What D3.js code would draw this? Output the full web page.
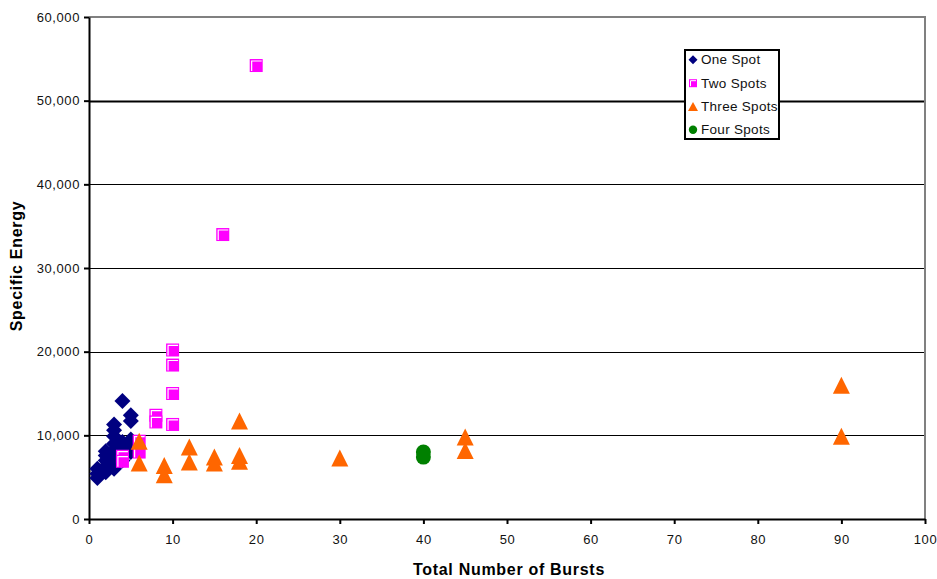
<!DOCTYPE html>
<html>
<head>
<meta charset="utf-8">
<script src="https://cdn.jsdelivr.net/npm/d3@7"></script>
<style>
  html, body { margin: 0; padding: 0; background: #fff; }
  svg { display: block; font-family: "Liberation Sans", Arial, sans-serif; }
</style>
</head>
<body>
<svg id="chart" width="937" height="579"></svg>
<script>
// ---------- DATA ----------
const xTicks = [0, 10, 20, 30, 40, 50, 60, 70, 80, 90, 100];
const yTicks = [0, 10000, 20000, 30000, 40000, 50000, 60000];
const seriesNames = ["One Spot", "Two Spots", "Three Spots", "Four Spots"];

const oneSpotX = [1, 1, 1, 2, 2, 2, 2, 2, 3, 3, 3, 3, 3, 3, 3, 3, 4, 4, 4, 4, 4, 5, 5, 5, 5, 5];
const oneSpotY = [4900, 5400, 6000, 5600, 6300, 7000, 7600, 8100, 6000, 6700, 7300, 8200, 9000, 9900, 10600, 11300, 7000, 7800, 8500, 9200, 14100, 8000, 8800, 9500, 11700, 12400];

const twoSpotsX = [4, 4, 6, 6, 8, 8, 10, 10, 10, 10, 16, 20];
const twoSpotsY = [7500, 6900, 9300, 8000, 12400, 11600, 20200, 18400, 15000, 11300, 34000, 54200];

const threeSpotsX = [6, 6, 9, 9, 12, 12, 15, 15, 18, 18, 18, 30, 45, 45, 90, 90];
const threeSpotsY = [9300, 6700, 6400, 5300, 8600, 6800, 7400, 6700, 11700, 7600, 6900, 7300, 9800, 8200, 16000, 9900];

const fourSpotsX = [40, 40];
const fourSpotsY = [8000, 7400];

// ---------- LAYOUT ----------
const svg = d3.select("#chart");
const x = d3.scaleLinear().domain([0, 100]).range([89, 925]);
const y = d3.scaleLinear().domain([0, 60000]).range([519, 17]);

const zip = (xs, ys) => xs.map((v, i) => ({ x: v, y: ys[i] }));

// gridlines
svg.append("g").selectAll("line")
  .data(yTicks.filter(t => t > 0 && t < 60000))
  .join("line")
  .attr("x1", x(0)).attr("x2", x(100))
  .attr("y1", d => Math.round(y(d)) + 0.5).attr("y2", d => Math.round(y(d)) + 0.5)
  .attr("stroke", "#000")
  .attr("stroke-width", d => d === 50000 ? 2 : 1);

// plot border (top/right) gray
svg.append("path")
  .attr("d", `M${x(0)},${y(60000)}H${x(100)}V${y(0)}`)
  .attr("fill", "none").attr("stroke", "#808080").attr("stroke-width", 2);

// axes
const yAxis = d3.axisLeft(y).tickValues(yTicks).tickSize(5).tickSizeOuter(0)
  .tickPadding(4).tickFormat(d3.format(","));
const xAxis = d3.axisBottom(x).tickValues(xTicks).tickSize(5).tickSizeOuter(0)
  .tickPadding(11).tickFormat(d3.format("d"));

const gy = svg.append("g").attr("transform", `translate(${x(0)},0)`).call(yAxis);
const gx = svg.append("g").attr("transform", `translate(0,${y(0)})`).call(xAxis);
[gx, gy].forEach(g => {
  g.select(".domain").attr("stroke", "#000").attr("stroke-width", 2);
  g.selectAll(".tick line").attr("stroke", "#000").attr("stroke-width", 2);
  g.selectAll(".tick text").attr("fill", "#111")
    .style("font-size", "13px").style("letter-spacing", "0.6px")
    .style("font-family", '"Liberation Sans", Arial, sans-serif');
});

// axis titles
svg.append("text")
  .attr("x", 509).attr("y", 575)
  .attr("text-anchor", "middle")
  .style("font-size", "16px").style("font-weight", "bold").style("letter-spacing", "0.7px")
  .text("Total Number of Bursts");
svg.append("text")
  .attr("transform", "translate(22,266) rotate(-90)")
  .attr("text-anchor", "middle")
  .style("font-size", "16px").style("font-weight", "bold").style("letter-spacing", "0.7px")
  .text("Specific Energy");

// ---------- MARKERS ----------
function diamond(g, s) {
  g.append("path").attr("d", `M0,${-s}L${s},0L0,${s}L${-s},0Z`).attr("fill", "#000080");
}
function square(g, s) {
  const h = s / 2;
  g.append("rect").attr("x", -h).attr("y", -h).attr("width", s).attr("height", s).attr("fill", "#FF00FF");
  const i = Math.max(1.5, s * 0.15);
  g.append("path")
    .attr("d", `M${-h + i},${h - 1}V${-h + i}H${h - 1}`)
    .attr("fill", "none").attr("stroke", "#fff").attr("stroke-width", s > 10 ? 1.2 : 1);
}
function triangle(g, w, hgt) {
  g.append("path").attr("d", `M0,${-hgt / 2}L${w / 2},${hgt / 2}L${-w / 2},${hgt / 2}Z`).attr("fill", "#FF6600");
}
function circle(g, r) {
  g.append("circle").attr("r", r).attr("fill", "#008000");
}

const layer = svg.append("g");
function plotSeries(data, drawFn) {
  layer.append("g").selectAll("g").data(data).join("g")
    .attr("transform", d => `translate(${x(d.x)},${y(d.y)})`)
    .each(function () { drawFn(d3.select(this)); });
}
plotSeries(zip(oneSpotX, oneSpotY), g => diamond(g, 8));
plotSeries(zip(twoSpotsX, twoSpotsY), g => square(g, 13));
plotSeries(zip(threeSpotsX, threeSpotsY), g => triangle(g, 17, 17));
plotSeries(zip(fourSpotsX, fourSpotsY), g => circle(g, 7.5));

// ---------- LEGEND ----------
const legend = svg.append("g");
legend.append("rect").attr("x", 685).attr("y", 50).attr("width", 94).attr("height", 89)
  .attr("fill", "#fff").attr("stroke", "#000").attr("stroke-width", 2);
const legendMarkers = [
  g => diamond(g, 4.5),
  g => square(g, 8),
  g => triangle(g, 10, 9),
  g => circle(g, 4.2)
];
const rowY = [64.3, 87.7, 111, 134.3];
seriesNames.forEach((name, i) => {
  const mg = legend.append("g").attr("transform", `translate(693,${rowY[i] - 4.5})`);
  legendMarkers[i](mg);
  legend.append("text").attr("x", 701).attr("y", rowY[i])
    .style("font-size", "13.5px").style("letter-spacing", "0.3px").attr("fill", "#111")
    .text(name);
});
</script>
</body>
</html>
